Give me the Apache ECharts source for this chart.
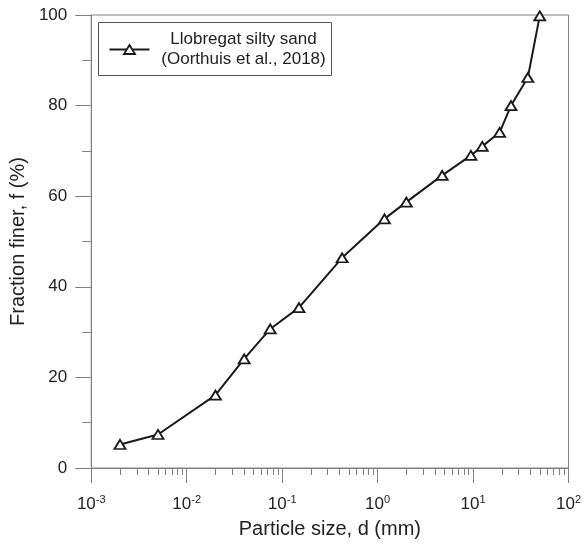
<!DOCTYPE html>
<html><head><meta charset="utf-8">
<script src="https://cdn.jsdelivr.net/npm/echarts@6/dist/echarts.min.js"></script>
<style>html,body{margin:0;padding:0;background:#fff}#c{width:584px;height:544px}</style>
</head><body><div id="c"></div>
<script>
const particleSize = [0.002,0.005,0.02,0.04,0.075,0.15,0.425,1.18,2,4.75,9.5,12.5,19,25,37.5,50];
const fractionFiner = [5.2,7.4,16.1,24.1,30.7,35.4,46.4,55.0,58.7,64.6,69.0,71.0,74.1,80.0,86.2,99.8];
const yTicks = [0,20,40,60,80,100];
const xDecades = [0.001,0.01,0.1,1,10,100];
const minorMultipliers = [2,3,4,5,6,7,8,9];
const seriesLabel = 'Llobregat silty sand';
const seriesSource = '(Oorthuis et al., 2018)';
const xTitle = 'Particle size, d (mm)';
const yTitle = 'Fraction finer, f (%)';

const FONT = '"Liberation Sans", Arial, sans-serif';
const AX = '#808080';
const TXT = '#222';

const minorLogs = [];
xDecades.slice(0, -1).forEach(d => minorMultipliers.forEach(m => minorLogs.push(Math.log10(d * m))));

const chart = echarts.init(document.getElementById('c'), null, {renderer: 'canvas'});
chart.setOption({
  animation: false,
  backgroundColor: '#fff',
  grid: {left: 91, right: 11, top: 15, bottom: 75, show: true, borderColor: AX, borderWidth: 1},
  xAxis: [{
    type: 'log', logBase: 10, min: xDecades[0], max: xDecades[xDecades.length - 1],
    position: 'bottom',
    name: xTitle, nameLocation: 'middle', nameGap: 51,
    nameTextStyle: {fontFamily: FONT, fontSize: 20, color: TXT},
    axisLine: {show: true, onZero: false, lineStyle: {color: AX, width: 1}},
    axisTick: {show: true, inside: false, length: 15, lineStyle: {color: AX, width: 1}},
    splitLine: {show: false},
    minorTick: {show: false},
    axisLabel: {
      margin: 26,
      formatter: v => '{b|10}{s|' + Math.round(Math.log10(v)) + '}',
      rich: {
        b: {fontFamily: FONT, fontSize: 17, color: TXT, lineHeight: 20, verticalAlign: 'middle'},
        s: {fontFamily: FONT, fontSize: 11, color: TXT, verticalAlign: 'top', lineHeight: 12}
      }
    }
  }, {
    type: 'value', min: -3, max: 2, position: 'bottom',
    axisLine: {show: false, onZero: false},
    axisLabel: {show: false},
    splitLine: {show: false},
    axisTick: {show: true, inside: false, length: 7, customValues: minorLogs, lineStyle: {color: AX, width: 1}}
  }],
  yAxis: {
    type: 'value', min: yTicks[0], max: yTicks[yTicks.length - 1], interval: 20,
    position: 'left',
    name: yTitle, nameLocation: 'middle', nameGap: 58, nameRotate: 90,
    nameTextStyle: {fontFamily: FONT, fontSize: 20, color: TXT},
    axisLine: {show: true, onZero: false, lineStyle: {color: AX, width: 1}},
    axisTick: {show: true, inside: false, length: 16, lineStyle: {color: AX, width: 1}},
    minorTick: {show: true, splitNumber: 2, length: 9, lineStyle: {color: AX, width: 1}},
    splitLine: {show: false},
    axisLabel: {margin: 24, fontFamily: FONT, fontSize: 17, color: TXT}
  },
  series: [{
    type: 'line', name: seriesLabel,
    xAxisIndex: 0,
    data: particleSize.map((d, i) => [d, fractionFiner[i]]),
    symbol: 'triangle', symbolSize: [11, 9], showAllSymbol: true,
    lineStyle: {color: '#1a1a1a', width: 2},
    itemStyle: {color: '#fff', borderColor: '#1a1a1a', borderWidth: 1.8},
    z: 3
  }],
  graphic: [{
    type: 'group', left: 98, top: 22,
    children: [
      {type: 'rect', shape: {x: 0, y: 0, width: 233, height: 53}, style: {fill: '#fff', stroke: '#555', lineWidth: 1}},
      {type: 'line', shape: {x1: 11, y1: 27, x2: 51, y2: 27}, style: {stroke: '#1a1a1a', lineWidth: 2}},
      {type: 'polygon', shape: {points: [[31, 22.5], [36.5, 31.5], [25.5, 31.5]]}, style: {fill: '#fff', stroke: '#1a1a1a', lineWidth: 1.8}},
      {type: 'text', x: 145, y: 27, style: {text: seriesLabel + '\n' + seriesSource, fontFamily: FONT, fontSize: 17, lineHeight: 20, fill: TXT, align: 'center', verticalAlign: 'middle'}}
    ]
  }]
});
</script></body></html>
